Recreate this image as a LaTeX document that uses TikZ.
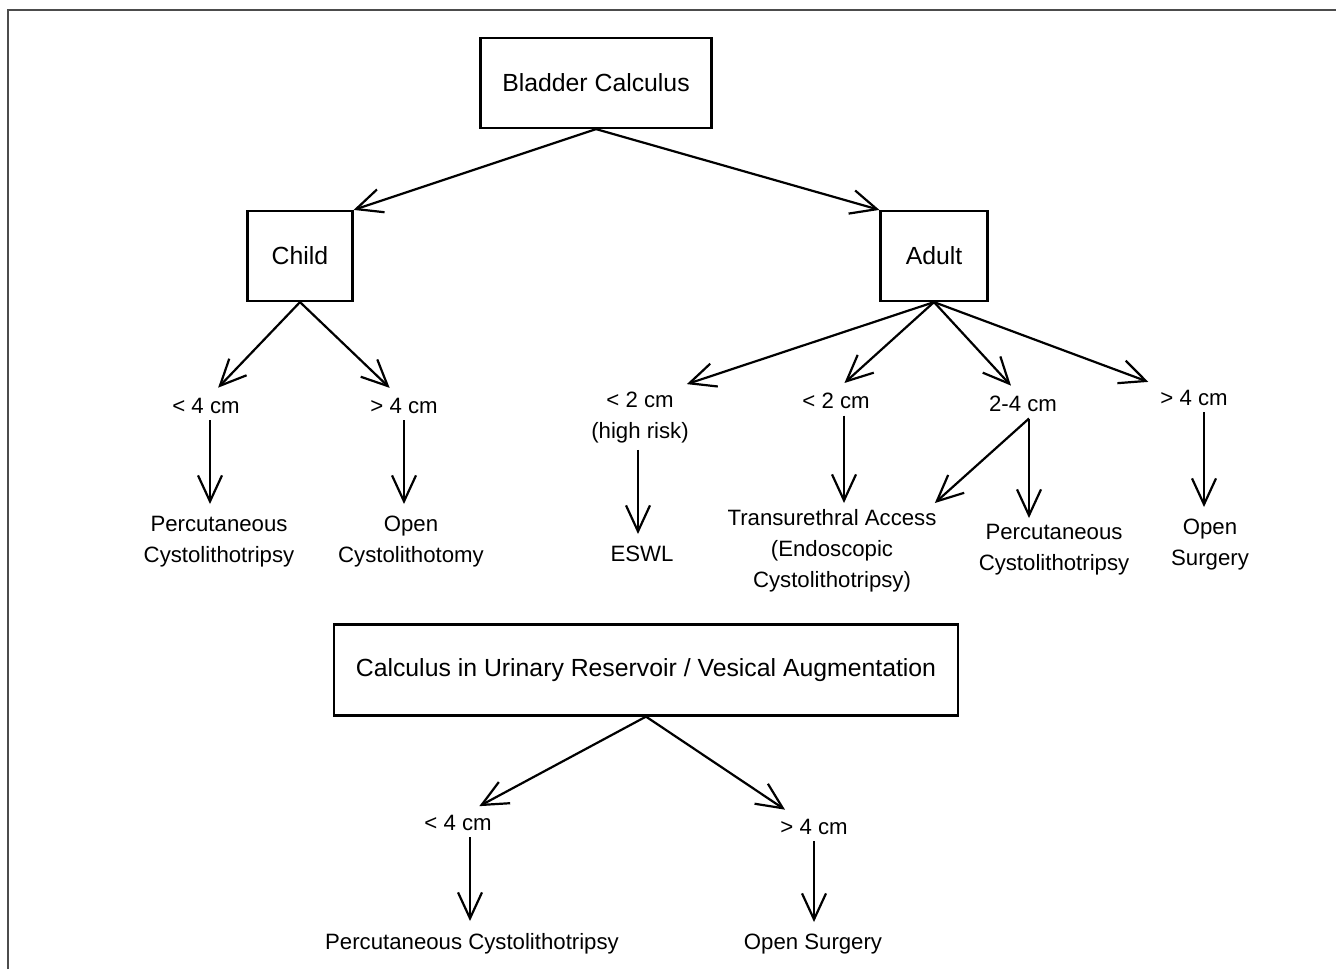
\documentclass[tikz,border=0pt]{standalone}
\usepackage{fontspec}
\setmainfont{Liberation Sans}
\usetikzlibrary{arrows.meta}

\begin{document}
\begin{tikzpicture}[x=0.5pt,y=-0.5pt,
  box/.style={draw, line width=1.1pt, font=\fontsize{12.4}{15}\selectfont, minimum height=45pt, inner sep=0pt},
  lbl/.style={anchor=north, align=center, inner sep=3pt, font=\fontsize{11.1}{15.5}\selectfont},
  arr/.style={line width=1.1pt, -{Straight Barb[length=13pt,width=12pt,line width=1.1pt]}},
  sarr/.style={arr, shorten >=3pt}]
\useasboundingbox (0,0) rectangle (1336,969);
\draw[black!70, line width=1pt] (8,969) -- (8,10) -- (1336,10);

\node[box, minimum width=115.5pt] (bladder) at (596,83) {Bladder Calculus};
\node[box, minimum width=52.5pt] (child) at (300,256) {Child};
\node[box, minimum width=53.5pt] (adult) at (934,256) {Adult};

\draw[arr] (bladder.south) -- (child.north east);
\draw[arr] (bladder.south) -- (adult.north west);

\node[lbl] (c1) at (206,392) {< 4 cm};
\node[lbl] (c2) at (404,392) {> 4 cm};
\node[lbl] (c1r) at (219,510) {Percutaneous\\Cystolithotripsy};
\node[lbl] (c2r) at (411,510) {Open\\Cystolithotomy};

\draw[sarr] (child.south) -- ([xshift=4pt]c1.north);
\draw[sarr] (child.south) -- ([xshift=-5pt]c2.north);
\draw[sarr] ([xshift=2pt]c1.south) -- ([xshift=2pt]c1.south |- c1r.north);
\draw[sarr] (c2.south) -- (c2.south |- c2r.north);

\node[lbl] (a1) at (640,386) {< 2 cm\\(high risk)};
\node[lbl] (a2) at (836,387) {< 2 cm};
\node[lbl] (a3) at (1023,390) {2-4 cm};
\node[lbl] (a4) at (1194,384) {> 4 cm};
\node[lbl] (a1r) at (642,540) {ESWL};
\node[lbl] (a2r) at (832,503) {Transurethral Access\\(Endoscopic\\Cystolithotripsy)};
\node[lbl] (a3r) at (1054,518) {Percutaneous\\Cystolithotripsy};
\node[lbl] (a4r) at (1210,513) {Open\\Surgery};

\draw[sarr] (adult.south) -- ([xshift=-7pt]a1.north east);
\draw[sarr] (adult.south) -- ([xshift=2pt]a2.north);
\draw[sarr] (adult.south) -- ([xshift=-4pt]a3.north);
\draw[sarr] (adult.south) -- (a4.north west);
\draw[sarr] ([xshift=-1pt]a1.south) -- ([xshift=-1pt]a1.south |- a1r.north);
\draw[arr] ([xshift=4pt]a2.south) -- ([xshift=4pt]a2.south |- a2r.north);
\draw[arr] ([xshift=3pt]a3.south) -- ([xshift=-4pt]a2r.north east);
\draw[arr] ([xshift=3pt]a3.south) -- ([xshift=3pt]a3.south |- a3r.north);
\draw[sarr] ([xshift=5pt]a4.south) -- ([xshift=5pt]a4.south |- a4r.north);

\node[box, minimum width=312pt, minimum height=45.5pt] (calc) at (646,670) {Calculus in Urinary Reservoir / Vesical Augmentation};

\node[lbl] (b1) at (458,809) {< 4 cm};
\node[lbl] (b2) at (814,813) {> 4 cm};
\node[lbl] (b1r) at (472,927) {Percutaneous Cystolithotripsy};
\node[lbl] (b2r) at (813,928) {Open Surgery};

\draw[sarr] (calc.south) -- ([xshift=8pt]b1.north);
\draw[sarr] (calc.south) -- ([xshift=-12pt]b2.north);
\draw[sarr] ([xshift=6pt]b1.south) -- ([xshift=6pt]b1.south |- b1r.north);
\draw[sarr] (b2.south) -- (b2.south |- b2r.north);
\end{tikzpicture}
\end{document}
